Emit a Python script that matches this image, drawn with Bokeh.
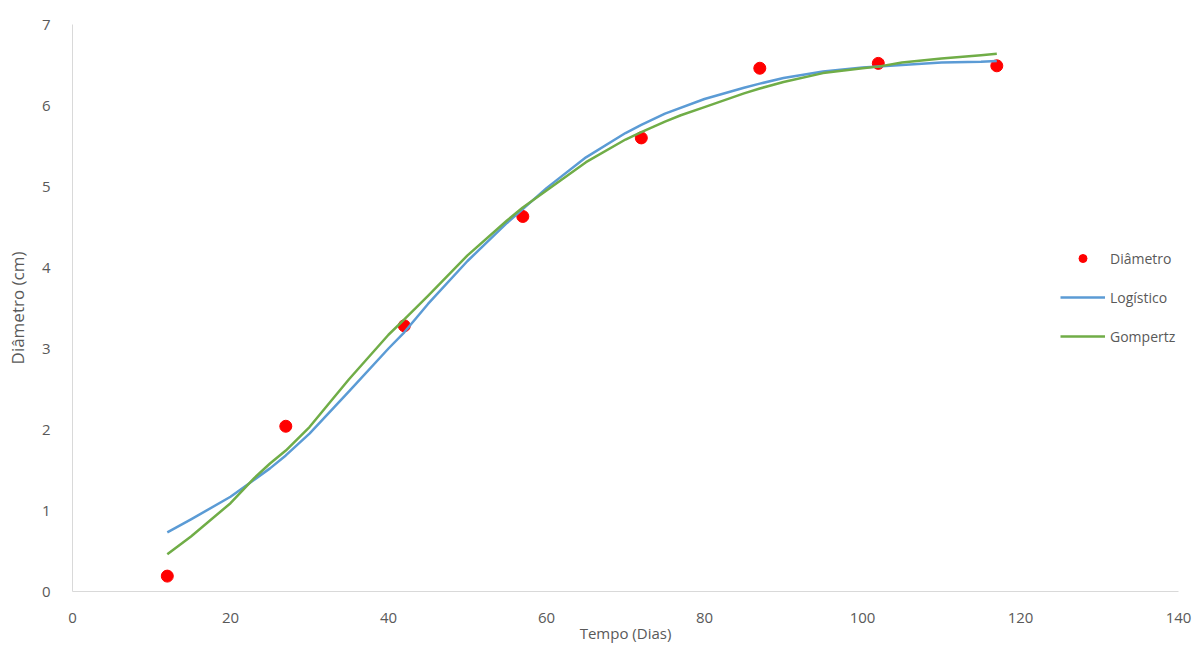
from bokeh.plotting import figure
from bokeh.models import Range1d, FixedTicker, Legend, LegendItem
from bokeh.embed import file_html
from bokeh.resources import INLINE

# Observed data
dias = [12, 27, 42, 57, 72, 87, 102, 117]
diametro = [0.19, 2.04, 3.28, 4.63, 5.60, 6.46, 6.52, 6.49]

# Fitted curves
log_x = [12, 15, 20, 25, 27, 30, 35, 40, 42, 45, 50, 55, 57, 60, 65, 70, 72, 75, 80,
         85, 87, 90, 95, 100, 102, 105, 110, 115, 117]
log_y = [0.73, 0.89, 1.17, 1.52, 1.68, 1.95, 2.47, 3.00, 3.20, 3.55, 4.08, 4.55, 4.72,
         4.98, 5.36, 5.66, 5.76, 5.90, 6.08, 6.22, 6.27, 6.34, 6.42, 6.47, 6.48, 6.50,
         6.53, 6.54, 6.55]
gom_x = [12, 15, 20, 23, 25, 27, 30, 35, 40, 42, 45, 50, 55, 57, 60, 65, 70, 72, 75,
         77, 80, 85, 87, 90, 95, 100, 102, 105, 110, 115, 117]
gom_y = [0.46, 0.68, 1.09, 1.40, 1.58, 1.74, 2.03, 2.62, 3.17, 3.36, 3.65, 4.15, 4.58,
         4.74, 4.95, 5.30, 5.58, 5.67, 5.80, 5.88, 5.98, 6.15, 6.21, 6.29, 6.40, 6.46,
         6.48, 6.53, 6.58, 6.62, 6.64]

x_ticks = [0, 20, 40, 60, 80, 100, 120, 140]
y_ticks = [0, 1, 2, 3, 4, 5, 6, 7]

FONT = "Open Sans"
GRAY = "#595959"

p = figure(width=1203, height=646, output_backend="svg", toolbar_location=None,
           x_range=Range1d(0, 140), y_range=Range1d(0, 7),
           min_border_left=72, min_border_right=25, min_border_top=24,
           min_border_bottom=55)
p.outline_line_color = None
p.xgrid.grid_line_color = None
p.ygrid.grid_line_color = None

for ax in (p.xaxis[0], p.yaxis[0]):
    ax.axis_line_color = "#D9D9D9"
    ax.axis_line_width = 1
    ax.major_tick_line_color = None
    ax.minor_tick_line_color = None
    ax.major_label_text_font = FONT
    ax.major_label_text_font_size = "15px"
    ax.major_label_text_color = GRAY
    ax.axis_label_text_font = FONT
    ax.axis_label_text_font_size = "15px"
    ax.axis_label_text_font_style = "normal"
    ax.axis_label_text_color = GRAY

p.yaxis.axis_label_text_font_size = "17px"
p.xaxis.ticker = FixedTicker(ticks=x_ticks)
p.yaxis.ticker = FixedTicker(ticks=y_ticks)
p.xaxis.axis_label = "Tempo (Dias)"
p.yaxis.axis_label = "Diâmetro (cm)"
p.xaxis.major_label_standoff = 15
p.xaxis.axis_label_standoff = -3
p.yaxis.major_label_standoff = 16
p.yaxis.axis_label_standoff = 10

r_pts = p.scatter(dias, diametro, size=12, color="#FF0000", line_color="#FF0000")
r_log = p.line(log_x, log_y, line_color="#5B9BD5", line_width=2.5, line_join="round")
r_gom = p.line(gom_x, gom_y, line_color="#70AD47", line_width=2.5, line_join="round")

legend = Legend(items=[LegendItem(label="Diâmetro", renderers=[r_pts]),
                       LegendItem(label="Logístico", renderers=[r_log]),
                       LegendItem(label="Gompertz", renderers=[r_gom])],
                location=(988, 245), border_line_color=None, background_fill_alpha=0,
                padding=0, margin=0, spacing=19, glyph_width=45, glyph_height=20,
                label_standoff=5, label_text_font=FONT, label_text_font_size="14px",
                label_text_color=GRAY, label_height=20)
p.add_layout(legend, "center")

open("out.html", "w").write(file_html(p, INLINE))
